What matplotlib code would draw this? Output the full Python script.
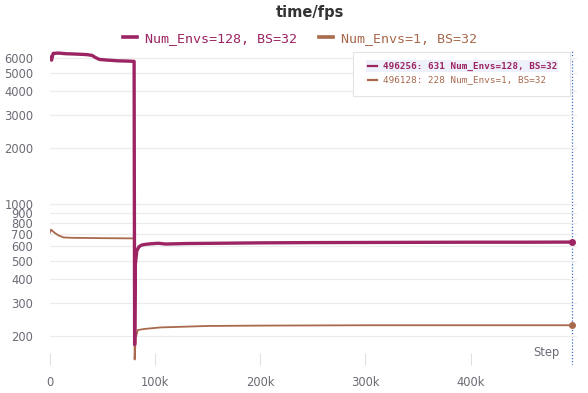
import matplotlib.pyplot as plt
from matplotlib.lines import Line2D
from matplotlib.patches import Rectangle
from matplotlib.ticker import FixedLocator, NullLocator, FuncFormatter

# run 1: Num_Envs=128, BS=32
purple_x = [0, 1500, 3000, 8000, 15000, 25000, 35000, 40000, 43000, 47000,
            55000, 65000, 75000, 80000, 80500, 81200, 82500, 84500, 87000,
            91000, 96000, 103000, 110000, 130000, 160000, 200000, 250000,
            300000, 350000, 400000, 450000, 496256]
purple_y = [6050, 5850, 6350, 6380, 6330, 6300, 6260, 6200, 6050, 5900,
            5850, 5800, 5780, 5760, 180, 480, 565, 595, 608, 614, 618, 622,
            616, 620, 622, 625, 627, 628, 629, 630, 630, 631]

# run 2: Num_Envs=1, BS=32
brown_x = [0, 1000, 4000, 8000, 13000, 20000, 50000, 80000, 80500, 81500,
           83500, 90000, 105000, 150000, 200000, 300000, 496128]
brown_y = [710, 735, 710, 685, 668, 665, 662, 660, 150, 195,
           215, 218, 222, 226, 227, 228, 228]

labels = ['Num_Envs=128, BS=32', 'Num_Envs=1, BS=32']
colors = ['#9c2462', '#a8694d']
y_ticks = [200, 300, 400, 500, 600, 700, 800, 900, 1000, 2000, 3000, 4000, 5000, 6000]
x_ticks = [0, 100000, 200000, 300000, 400000]

fig = plt.figure(figsize=(5.88, 3.93), dpi=100)
ax = fig.add_axes([0.085, 0.071, 0.896, 0.802])

ax.plot(purple_x, purple_y, color=colors[0], lw=2.4, solid_joinstyle='round', zorder=3)
ax.plot(brown_x, brown_y, color=colors[1], lw=1.3, zorder=2)
ax.plot(purple_x[-1], purple_y[-1], 'o', color=colors[0], ms=4, zorder=4)
ax.plot(brown_x[-1], brown_y[-1], 'o', color=colors[1], ms=4, zorder=4)

ax.set_yscale('log')
ax.set_ylim(140, 6630)
ax.set_xlim(0, 501000)
ax.yaxis.set_major_locator(FixedLocator(y_ticks))
ax.yaxis.set_minor_locator(NullLocator())
ax.yaxis.set_major_formatter(FuncFormatter(lambda v, p: f'{int(v)}'))
ax.xaxis.set_major_locator(FixedLocator(x_ticks))
ax.xaxis.set_major_formatter(FuncFormatter(lambda v, p: '0' if v == 0 else f'{int(v / 1000)}k'))

for s in ax.spines.values():
    s.set_visible(False)
ax.grid(axis='y', color='#ececef', lw=0.9)
ax.tick_params(axis='y', length=0, pad=12, labelsize=8.3, labelcolor='#6b6b76')
ax.tick_params(axis='x', direction='in', length=9, width=0.8, color='#e0e0e4',
               pad=8, labelsize=8.3, labelcolor='#6b6b76')

# hover line at the last step
ax.axvline(496256, color='#3b6cc5', lw=0.9, ls=(0, (1, 1.5)), zorder=1)
ax.text(0.968, 0.02, 'Step', transform=ax.transAxes, ha='right', va='bottom',
        fontsize=8.3, color='#6b6b76')

# tooltip box
box = Rectangle((353 / 588, 1 - 96 / 393), 217 / 588, 44 / 393, transform=fig.transFigure,
                facecolor='white', edgecolor='#e4e4e8', lw=0.8, zorder=5)
fig.add_artist(box)
hl = Rectangle((366 / 588, 1 - 72 / 393), 192 / 588, 12 / 393, transform=fig.transFigure,
               facecolor='#eef0fa', edgecolor='none', zorder=6)
fig.add_artist(hl)
rows = [('496256: 631 ' + labels[0], 'bold'), ('496128: 228 ' + labels[1], 'normal')]
for i, (txt, w) in enumerate(rows):
    yy = 1 - (66 + 14 * i) / 393
    fig.add_artist(Line2D([368 / 588, 377 / 588], [yy, yy], transform=fig.transFigure,
                          color=colors[i], lw=1.6, zorder=7))
    fig.text(383 / 588, yy, txt, ha='left', va='center', fontsize=6.7,
             family='DejaVu Sans Mono', color=colors[i], weight=w, zorder=7)

fig.text(0.527, 0.968, 'time/fps', ha='center', va='center', fontsize=10.5,
         weight='bold', color='#333333')

handles = [Line2D([], [], color=c, lw=2.6) for c in colors]
fig.legend(handles, labels, loc='center', bbox_to_anchor=(0.51, 0.903), ncol=2,
           frameon=False, handlelength=1.1, handletextpad=0.6, columnspacing=1.6,
           prop={'family': 'DejaVu Sans Mono', 'size': 9.6}, labelcolor='linecolor')

fig.savefig('out.png', dpi=100)
